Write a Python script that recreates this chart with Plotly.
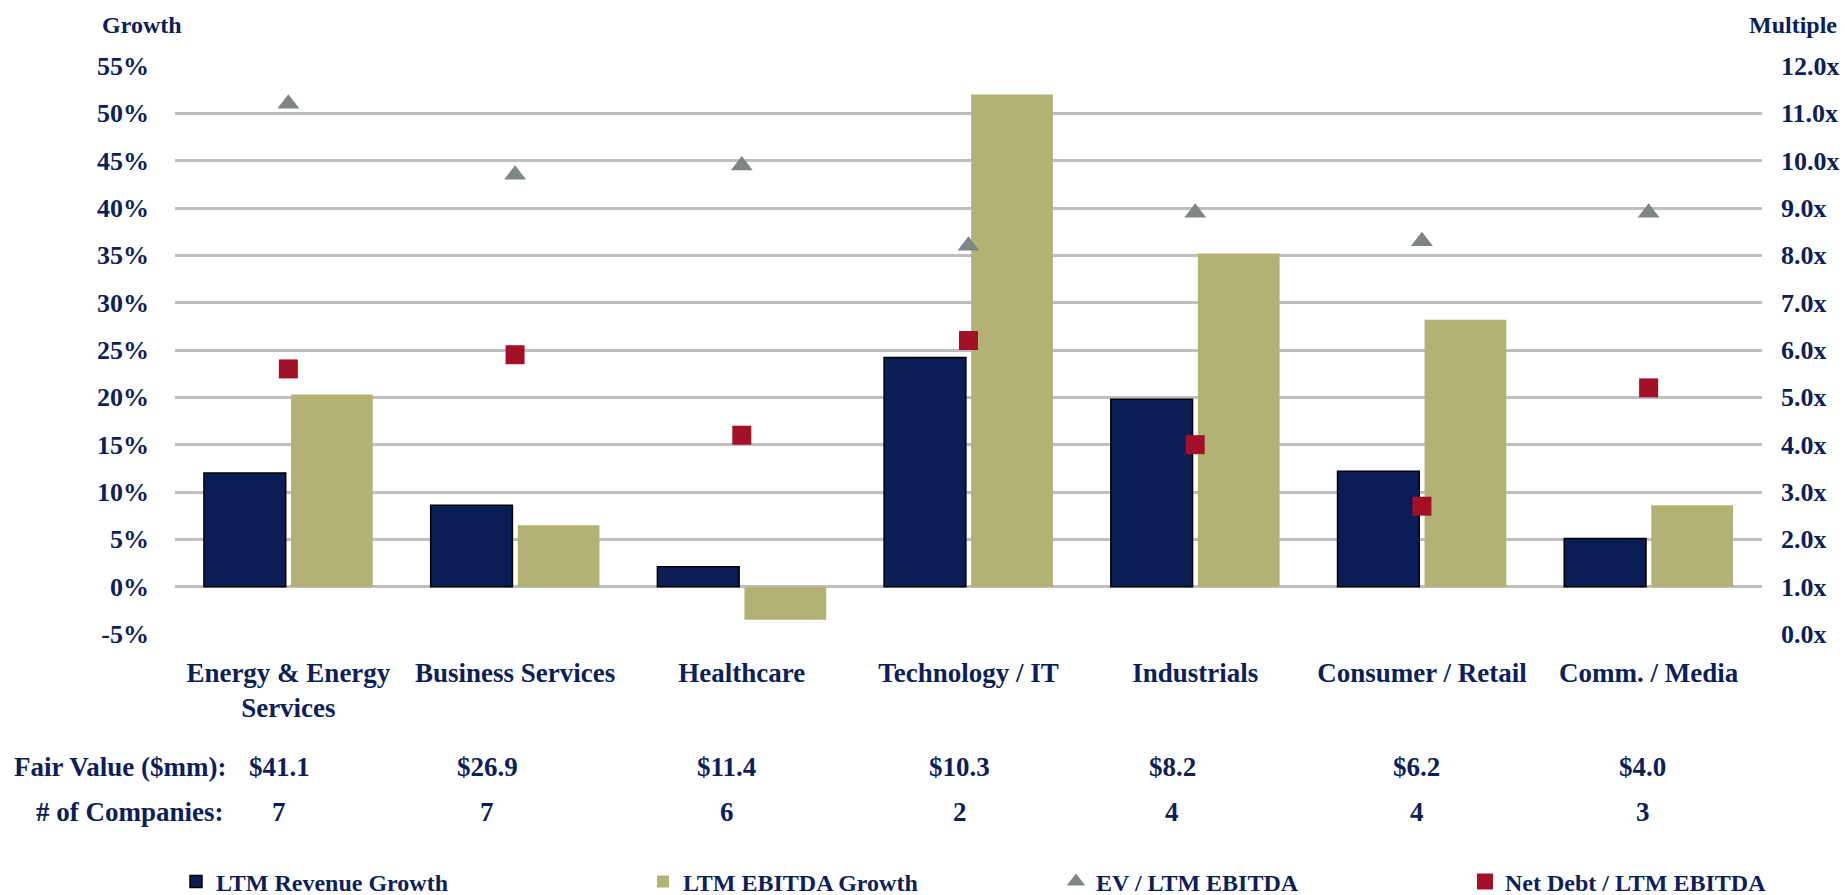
import plotly.graph_objects as go

# ---------------- data ----------------
categories = ["Energy & Energy Services", "Business Services", "Healthcare",
              "Technology / IT", "Industrials", "Consumer / Retail", "Comm. / Media"]
category_ticktext = ["Energy & Energy<br>Services", "Business Services", "Healthcare",
                     "Technology / IT", "Industrials", "Consumer / Retail", "Comm. / Media"]
revenue_growth = [12.0, 8.6, 2.1, 24.2, 19.8, 12.2, 5.1]      # %
ebitda_growth = [20.3, 6.5, -3.5, 52.0, 35.2, 28.2, 8.6]      # %
ev_ebitda = [11.2, 9.7, 9.9, 8.2, 8.9, 8.3, 8.9]              # x
net_debt_ebitda = [5.6, 5.9, 4.2, 6.2, 4.0, 2.7, 5.2]          # x
fair_value = ["$41.1", "$26.9", "$11.4", "$10.3", "$8.2", "$6.2", "$4.0"]
num_companies = ["7", "7", "6", "2", "4", "4", "3"]
growth_ticks = list(range(-5, 60, 5))
growth_ticktext = [f"{v}%" for v in growth_ticks]
multiple_ticks = list(range(0, 13))
multiple_ticktext = [f"{v:.1f}x" for v in multiple_ticks]

# ---------------- style ----------------
W, H = 1845, 895
ML, MR, MT, MB = 175, 83, 66, 261
PW, PH = W - ML - MR, H - MT - MB
NAVY = "#0A1D55"
KHAKI = "#B3B275"
GREY = "#7F8583"
RED = "#A31129"
TEXT = "#0D1F5A"
FONT = "Liberation Serif"
table_col_shift = [-9, -28, -15, -9, -23, -5, -6]


def px_x(px):
    return (px - ML) / PW


def px_y(py):
    return (H - MB - py) / PH


fig = go.Figure()
fig.add_trace(go.Bar(x=categories, y=revenue_growth, name="LTM Revenue Growth",
                     marker=dict(color=NAVY, line=dict(color="black", width=1.5)),
                     legend="legend"))
fig.add_trace(go.Bar(x=categories, y=ebitda_growth, name="LTM EBITDA Growth",
                     marker=dict(color=KHAKI, line=dict(width=0)),
                     legend="legend2"))
fig.add_trace(go.Scatter(x=categories, y=ev_ebitda, name="EV / LTM EBITDA", mode="markers",
                         marker=dict(symbol="triangle-up", size=19, color=GREY),
                         yaxis="y2", legend="legend3"))
fig.add_trace(go.Scatter(x=categories, y=net_debt_ebitda, name="Net Debt / LTM EBITDA",
                         mode="markers",
                         marker=dict(symbol="square", size=19, color=RED),
                         yaxis="y2", legend="legend4"))

tick_font = dict(family=FONT, size=26, color=TEXT, weight="bold")
cat_font = dict(family=FONT, size=27, color=TEXT, weight="bold")
leg_font = dict(family=FONT, size=24, color=TEXT, weight="bold")
title_font = dict(family=FONT, size=24, color=TEXT, weight="bold")
row_font = dict(family=FONT, size=27, color=TEXT, weight="bold")

annotations = []
annotations.append(dict(text="Growth", x=px_x(100), y=px_y(25), xref="paper", yref="paper",
                        xanchor="left", yanchor="middle", showarrow=False, font=title_font))
annotations.append(dict(text="Multiple", x=px_x(1839), y=px_y(25), xref="paper", yref="paper",
                        xanchor="right", yanchor="middle", showarrow=False, font=title_font))
annotations.append(dict(text="Fair Value ($mm):", x=px_x(228), y=px_y(767), xref="paper",
                        yref="paper", xanchor="right", yanchor="middle", showarrow=False,
                        font=row_font))
annotations.append(dict(text="# of Companies:", x=px_x(226), y=px_y(812), xref="paper",
                        yref="paper", xanchor="right", yanchor="middle", showarrow=False,
                        font=row_font))
for cat, fv, nc, sh in zip(categories, fair_value, num_companies, table_col_shift):
    annotations.append(dict(text=fv, x=cat, y=px_y(767), xref="x", yref="paper",
                            xanchor="center", yanchor="middle", showarrow=False,
                            xshift=sh, font=row_font))
    annotations.append(dict(text=nc, x=cat, y=px_y(812), xref="x", yref="paper",
                            xanchor="center", yanchor="middle", showarrow=False,
                            xshift=sh, font=row_font))

leg_common = dict(orientation="h", yanchor="middle", xanchor="left", font=leg_font,
                  bgcolor="rgba(0,0,0,0)", itemclick=False, itemdoubleclick=False)
leg_y = px_y(882)

fig.update_layout(
    width=W, height=H,
    margin=dict(l=ML, r=MR, t=MT, b=MB, autoexpand=False),
    paper_bgcolor="white", plot_bgcolor="white",
    barmode="group", bargap=0.232, bargroupgap=0.061,
    font=dict(family=FONT, color=TEXT),
    xaxis=dict(tickvals=categories, ticktext=category_ticktext, tickfont=cat_font,
               showgrid=False, showline=False, zeroline=False, ticks="",
               ticklabelstandoff=20),
    yaxis=dict(range=[-5, 55], tickvals=growth_ticks, ticktext=growth_ticktext,
               tickfont=tick_font,
               showgrid=True, gridcolor="#BFBFBF", gridwidth=2.5, zeroline=False,
               showline=False, ticks="", ticklabelstandoff=25),
    yaxis2=dict(range=[0, 12], tickvals=multiple_ticks, ticktext=multiple_ticktext,
                overlaying="y", side="right", showgrid=False, zeroline=False,
                showline=False, ticks="", tickfont=tick_font, ticklabelstandoff=18),
    legend=dict(x=px_x(176), y=leg_y, **leg_common),
    legend2=dict(x=px_x(643), y=leg_y, **leg_common),
    legend3=dict(x=px_x(1056), y=leg_y, **leg_common),
    legend4=dict(x=px_x(1465), y=leg_y, **leg_common),
    annotations=annotations,
    showlegend=True,
)

fig.write_html("out.html", config={"displayModeBar": False},
               post_script="document.body.style.margin='0px';")
